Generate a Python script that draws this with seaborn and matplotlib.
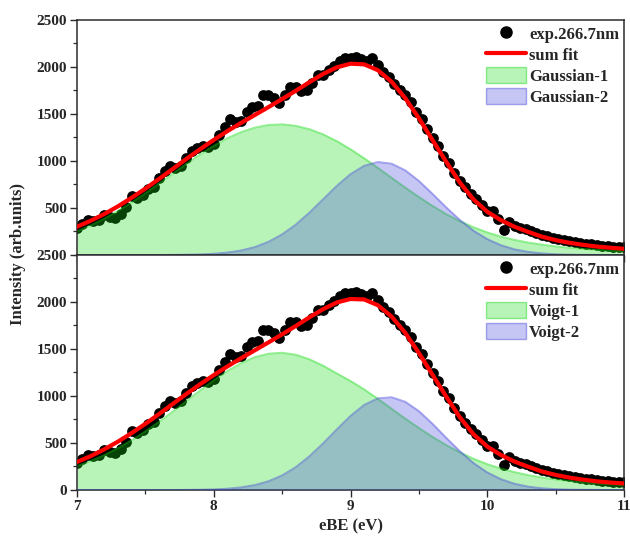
import numpy as np
import pandas as pd
import matplotlib
matplotlib.use("Agg")
import matplotlib.pyplot as plt
import seaborn as sns
from matplotlib.lines import Line2D
from matplotlib.patches import Patch
from matplotlib.ticker import MultipleLocator

# ---------------- data ----------------
x_fit = np.linspace(7.0, 11.0, 41)     # 0.1 eV grid of the fit curves
x_exp = np.linspace(7.0, 11.0, 101)    # 0.04 eV grid of experimental points

exp_counts = [286, 331, 375, 358, 377, 426, 399, 392, 436, 512,
              629, 608, 637, 697, 728, 819, 891, 944, 926, 949,
              1032, 1103, 1134, 1155, 1154, 1184, 1272, 1359, 1445, 1410,
              1425, 1519, 1572, 1586, 1700, 1703, 1667, 1622, 1707, 1792,
              1787, 1744, 1751, 1826, 1911, 1916, 1964, 2012, 2064, 2099,
              2095, 2102, 2089, 2066, 2091, 2026, 1947, 1898, 1819, 1759,
              1699, 1624, 1518, 1448, 1345, 1242, 1160, 1057, 977, 868,
              790, 718, 646, 594, 532, 470, 464, 378, 266, 348,
              310, 288, 276, 250, 235, 210, 200, 180, 172, 156,
              150, 136, 132, 119, 112, 110, 100, 100, 90, 85,
              81]

gauss1 = [251, 314, 386, 468, 559, 656, 759, 864, 969, 1069,
          1161, 1242, 1307, 1355, 1383, 1390, 1374, 1338, 1283, 1211,
          1125, 1029, 927, 822, 718, 617, 522, 435, 360, 295,
          240, 195, 160, 132, 110, 92, 77, 65, 55, 47,
          40]
gauss2 = [0, 0, 0, 0, 0, 0, 0, 1, 3, 6,
          13, 26, 48, 84, 140, 219, 323, 451, 593, 735,
          860, 949, 989, 972, 901, 788, 650, 506, 372, 258,
          169, 104, 60, 33, 17, 8, 4, 2, 1, 0,
          0]
sum_gauss = [301, 364, 436, 518, 609, 706, 809, 915, 1022, 1125,
             1224, 1318, 1405, 1489, 1573, 1659, 1747, 1839, 1926, 1996,
             2035, 2028, 1966, 1844, 1669, 1455, 1222, 991, 770, 590,
             460, 370, 300, 245, 195, 158, 130, 108, 90, 77,
             66]

voigt1 = [254, 308, 371, 445, 529, 623, 725, 833, 946, 1058,
          1166, 1265, 1349, 1413, 1450, 1460, 1439, 1390, 1322, 1240,
          1160, 1070, 970, 865, 760, 660, 565, 478, 400, 332,
          275, 228, 190, 158, 133, 112, 96, 83, 72, 63,
          56]
voigt2 = [0, 0, 0, 0, 0, 0, 0, 0, 1, 3,
          6, 14, 28, 52, 93, 155, 243, 359, 496, 645,
          788, 905, 975, 987, 939, 839, 704, 555, 412, 286,
          187, 115, 66, 36, 18, 9, 4, 2, 1, 0,
          0]
sum_voigt = [298, 360, 433, 515, 606, 704, 808, 915, 1022, 1125,
             1222, 1315, 1402, 1486, 1570, 1656, 1745, 1837, 1924, 1995,
             2032, 2027, 1966, 1846, 1672, 1458, 1225, 994, 772, 592,
             462, 372, 302, 247, 197, 160, 132, 110, 92, 79,
             70]

exp_label = "exp.266.7nm"
fit_label = "sum fit"
top_labels = ["Gaussian-1", "Gaussian-2"]
bottom_labels = ["Voigt-1", "Voigt-2"]
x_ticks = [7, 8, 9, 10, 11]

# ---------------- style ----------------
sns.set_theme(style="ticks")
plt.rcParams["font.family"] = ["Liberation Serif", "DejaVu Serif"]
plt.rcParams["font.weight"] = "bold"
plt.rcParams["axes.labelweight"] = "bold"

GREEN = (20 / 255, 220 / 255, 20 / 255)
BLUE = (69 / 255, 69 / 255, 221 / 255)
FILL_A = 0.30
EDGE_A = 0.45
SPINE = "#2b2b2b"

fig, axes = plt.subplots(2, 1, figsize=(6.3, 5.4), dpi=100, sharex=True)
fig.subplots_adjust(left=0.1222, right=0.9905, top=0.963, bottom=0.0926, hspace=0)

panels = [
    (axes[0], gauss1, gauss2, sum_gauss, top_labels, [500, 1000, 1500, 2000, 2500]),
    (axes[1], voigt1, voigt2, sum_voigt, bottom_labels, [0, 500, 1000, 1500, 2000, 2500]),
]

for ax, c1, c2, sfit, labs, yt in panels:
    exp_df = pd.DataFrame({"eBE": x_exp, "I": exp_counts})
    sns.scatterplot(data=exp_df, x="eBE", y="I", ax=ax, color="black", s=60,
                    linewidth=0, zorder=1, legend=False)
    ax.fill_between(x_fit, 0, c1, color=GREEN, alpha=FILL_A, lw=0, zorder=2)
    ax.plot(x_fit, c1, color=GREEN, alpha=EDGE_A, lw=1.4, zorder=2.1)
    ax.fill_between(x_fit, 0, c2, color=BLUE, alpha=FILL_A, lw=0, zorder=3)
    ax.plot(x_fit, c2, color=BLUE, alpha=EDGE_A, lw=1.4, zorder=3.1)
    fit_df = pd.DataFrame({"eBE": x_fit, "I": sfit})
    sns.lineplot(data=fit_df, x="eBE", y="I", ax=ax, color="red", lw=3,
                 zorder=5, legend=False)

    ax.set_xlim(7, 11)
    ax.set_ylim(0, 2500)
    ax.set_yticks(yt)
    ax.yaxis.set_minor_locator(MultipleLocator(250))
    ax.set_xticks(x_ticks)
    ax.xaxis.set_minor_locator(MultipleLocator(0.5))
    ax.set_ylabel("")
    ax.set_xlabel("")
    for sp in ax.spines.values():
        sp.set_visible(True)
        sp.set_color(SPINE)
        sp.set_linewidth(1.1)
    ax.tick_params(which="major", direction="out", length=5, width=1.0,
                   color=SPINE, labelsize=11, pad=2)
    ax.tick_params(which="minor", direction="out", length=3, width=0.9, color=SPINE)
    for t in ax.get_xticklabels() + ax.get_yticklabels():
        t.set_fontweight("bold")

    handles = [
        Line2D([], [], marker="o", ls="", color="black", markersize=8),
        Line2D([], [], color="red", lw=3),
        Patch(facecolor=(*GREEN, FILL_A), edgecolor=(*GREEN, EDGE_A)),
        Patch(facecolor=(*BLUE, FILL_A), edgecolor=(*BLUE, EDGE_A)),
    ]
    leg = ax.legend(handles, [exp_label, fit_label] + labs, loc="upper right",
                    frameon=False, prop={"size": 12, "weight": "bold"},
                    handlelength=2.4, handleheight=1.1, labelspacing=0.2,
                    handletextpad=0.2, borderaxespad=0.15, borderpad=0.15)
    leg.set_zorder(10)

axes[0].tick_params(axis="x", labelbottom=False)
axes[1].set_xlabel("eBE (eV)", fontsize=12, fontweight="bold", labelpad=4)
fig.text(0.028, 0.53, "Intensity (arb.units)", rotation=90, ha="center",
         va="center", fontsize=12, fontweight="bold")

fig.savefig("out.png", dpi=100)
